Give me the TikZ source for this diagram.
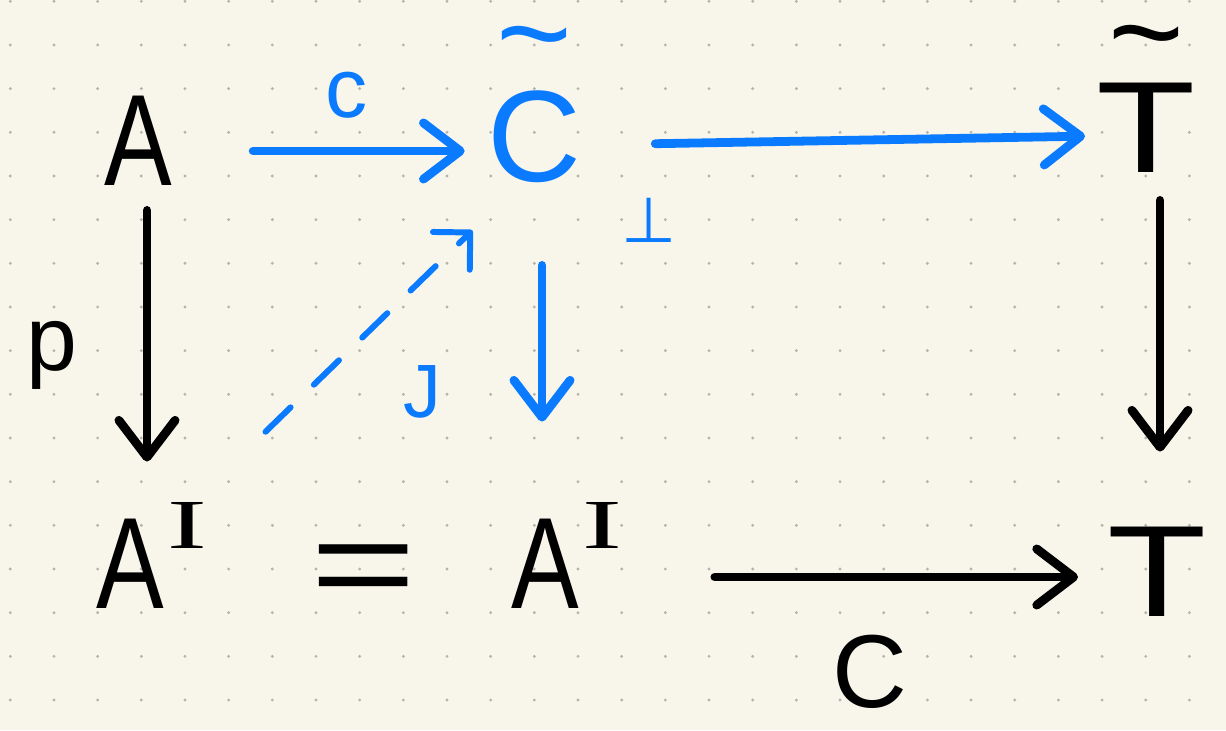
\documentclass[tikz,border=0pt]{standalone}
\usepackage{fontspec}
\setmainfont{Liberation Sans}
\newfontfamily\serifI{Liberation Serif}
\newfontfamily\dejavu{DejaVu Sans}
\usetikzlibrary{arrows.meta,calc}
\definecolor{paper}{HTML}{F8F6EB}
\definecolor{dotc}{HTML}{B4B3AD}
\definecolor{myblue}{HTML}{0A7AFF}
\newcommand\supI{\kern2pt\raisebox{34pt}{\fontsize{40pt}{40pt}\serifI\scalebox{1.7}[1]{I}}}
\newcommand\nA{\scalebox{0.78}[1]{A}}
\newcommand\wT{\scalebox{1.25}[1]{T}}
\newcommand\tld{\raisebox{-0.25em}[0.15em][0pt]{\textasciitilde}}
\tikzset{
  big/.style={font=\fontsize{74pt}{74pt}\selectfont, inner sep=0pt, text height=53pt, text depth=0pt},
  tldl/.style={font=\fontsize{74pt}{74pt}\selectfont, inner sep=0pt},
  lab/.style={inner sep=0pt},
  blk/.style={draw=black, line width=5pt, line cap=round, -{Straight Barb[length=21pt,width=32pt,round]}},
  blu/.style={blk, draw=myblue},
  dsh/.style={draw=myblue, line width=3.4pt, line cap=round, dash pattern=on 0.7cm off 0.65cm, -{Straight Barb[length=15pt,width=30pt,round]}},
}
\begin{document}
\begin{tikzpicture}[x=0.02cm,y=-0.02cm]
\fill[paper] (0,0) rectangle (1226,730);
\useasboundingbox (0,0) rectangle (1226,730);
\foreach \i in {0,...,27}{
  \foreach \j in {0,...,16}{
    \fill[dotc] ({10.3+43.67*\i},{1.3+43.67*\j}) circle[radius=0.032cm];
  }
}
% main objects
\node[big, text=myblue, label={[tldl, text=myblue, label distance=0.86cm]above:\tld}] (Ct) at (534,135) {C};
\node[big] (A) at (138,139) {\nA};
\node[big, label={[tldl, label distance=0.69cm]above:\tld}] (Tt) at (1146,126) {\wT};
\node[big] (AIl) at (152,562) {\nA\supI};
\node[big] (AIr) at (567,562) {\nA\supI};
\node[big] (T) at (1157,570) {\wT};
\path (AIl) -- node[big, pos=0.513] (eq) {\scalebox{1.4}[1]{=}} (AIr);
% labels
\node[lab, text=myblue, font=\fontsize{48pt}{48pt}\selectfont] (lc) at (347,95) {c};
\node[lab, font=\fontsize{52pt}{52pt}\selectfont] (lp) at (52,355) {p};
\node[lab, text=myblue, font=\fontsize{43pt}{43pt}\selectfont] (lJ) at (422,392) {J};
\node[lab, text=myblue, font=\fontsize{36pt}{36pt}\dejavu] (lperp) at (649,220) {⊥};
\node[lab, font=\fontsize{59pt}{59pt}\selectfont] (lC) at (870,672) {C};
% arrows
\draw[blu, shorten <=1.62cm, shorten >=0.44cm] ([yshift=-0.24cm]A.east) -- ([yshift=-0.24cm]A.east -| Ct.west);
\draw[blu, shorten <=1.48cm, shorten >=0.22cm] ([yshift=-0.2cm]Ct.east) -- ([yshift=-0.2cm]Tt.west);
\draw[blk, shorten <=0.49cm, shorten >=1.07cm] ([xshift=0.18cm]A.south) -- ([xshift=0.18cm]A.south |- AIl.north);
\draw[blu, shorten <=1.67cm, shorten >=1.87cm] ([xshift=0.16cm]Ct.south) -- ([xshift=0.16cm]Ct.south |- AIr.north);
\draw[blk, shorten <=0.55cm, shorten >=1.43cm] ([xshift=0.28cm]Tt.south) -- ([xshift=0.28cm]Tt.south |- T.north);
\draw[blk, shorten <=1.84cm, shorten >=0.58cm] ([yshift=-0.3cm]AIr.east) -- ([yshift=-0.3cm]AIr.east -| T.west);
\draw[dsh, shorten <=2.39cm, shorten >=1.39cm] ($(AIl.north)!0.5!(AIl.north east)$) -- ($(Ct.south west)!0.75!(Ct.south)$);
\end{tikzpicture}
\end{document}
